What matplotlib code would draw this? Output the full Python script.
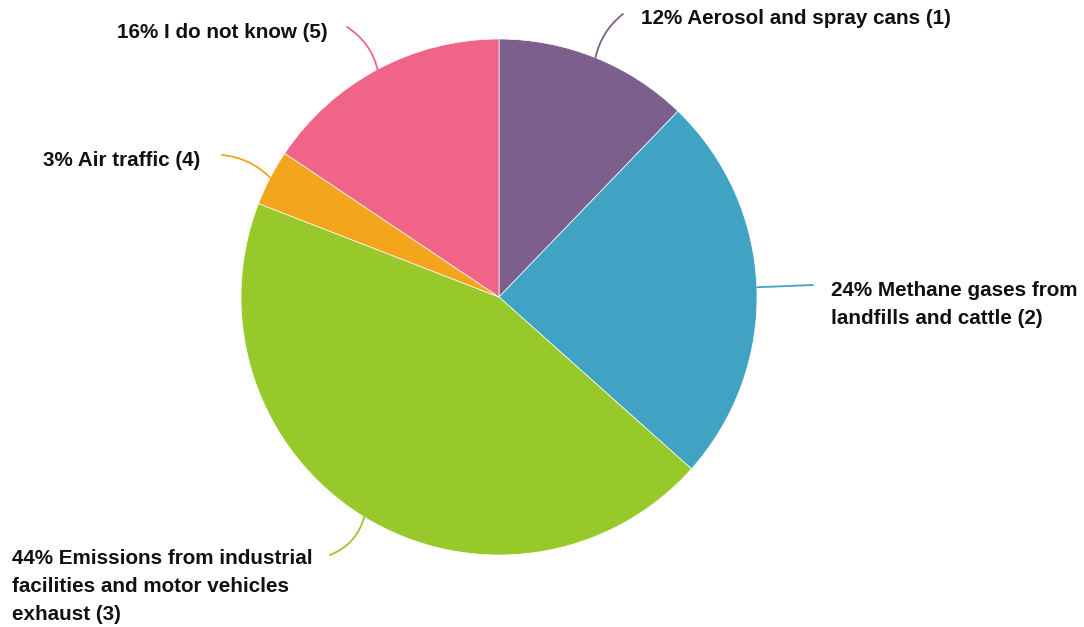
import numpy as np
import matplotlib
matplotlib.use("Agg")
import matplotlib.pyplot as plt

# shares (clockwise from 12 o'clock)
values = [12.2, 24.4, 44.3, 3.5, 15.6]
labels = [
    "12% Aerosol and spray cans (1)",
    "24% Methane gases from\nlandfills and cattle (2)",
    "44% Emissions from industrial\nfacilities and motor vehicles\nexhaust (3)",
    "3% Air traffic (4)",
    "16% I do not know (5)",
]
colors = ["#7D5F8E", "#41A3C4", "#97C92A", "#F5A51C", "#F06488"]

W, H = 1084, 627
cx, cy, r = 499, 297, 258

# label layout in pixel coords: text anchor, alignment, leader end, curvature
text_pos = [(641, 18), (831, 304), (12, 586), (200, 160), (328, 32)]
text_ha = ["left", "left", "left", "right", "right"]
line_end = [(623, 14), (813, 285), (330, 555), (222, 155), (347, 27)]
line_rad = [0.18, 0.0, 0.25, -0.18, -0.2]

plt.rcParams['font.family'] = ['Liberation Sans', 'DejaVu Sans']

fig = plt.figure(figsize=(W / 100, H / 100), dpi=100)
ax = fig.add_axes([0, 0, 1, 1])
ax.set_xlim(0, W)
ax.set_ylim(0, H)
ax.axis('off')

wedges, _ = ax.pie(values, colors=colors, startangle=90, counterclock=False,
                   center=(cx, H - cy), radius=r,
                   wedgeprops=dict(edgecolor='white', linewidth=0.5))
ax.set_xlim(0, W)
ax.set_ylim(0, H)
ax.set_aspect('equal')

for i, w in enumerate(wedges):
    mid = np.deg2rad((w.theta1 + w.theta2) / 2)
    sx = cx + r * np.cos(mid)
    sy = H - cy + r * np.sin(mid)
    ex, ey = line_end[i]
    ax.annotate('', xy=(sx, sy), xytext=(ex, H - ey),
                arrowprops=dict(arrowstyle='-', color=colors[i], lw=1.3,
                                shrinkA=0, shrinkB=0,
                                connectionstyle='arc3,rad=%s' % line_rad[i]))
    tx, ty = text_pos[i]
    ax.text(tx, H - ty, labels[i], ha=text_ha[i], va='center',
            fontsize=14.9, fontweight='bold', color='#111111',
            linespacing=1.6)

fig.savefig("out.png", dpi=100)
